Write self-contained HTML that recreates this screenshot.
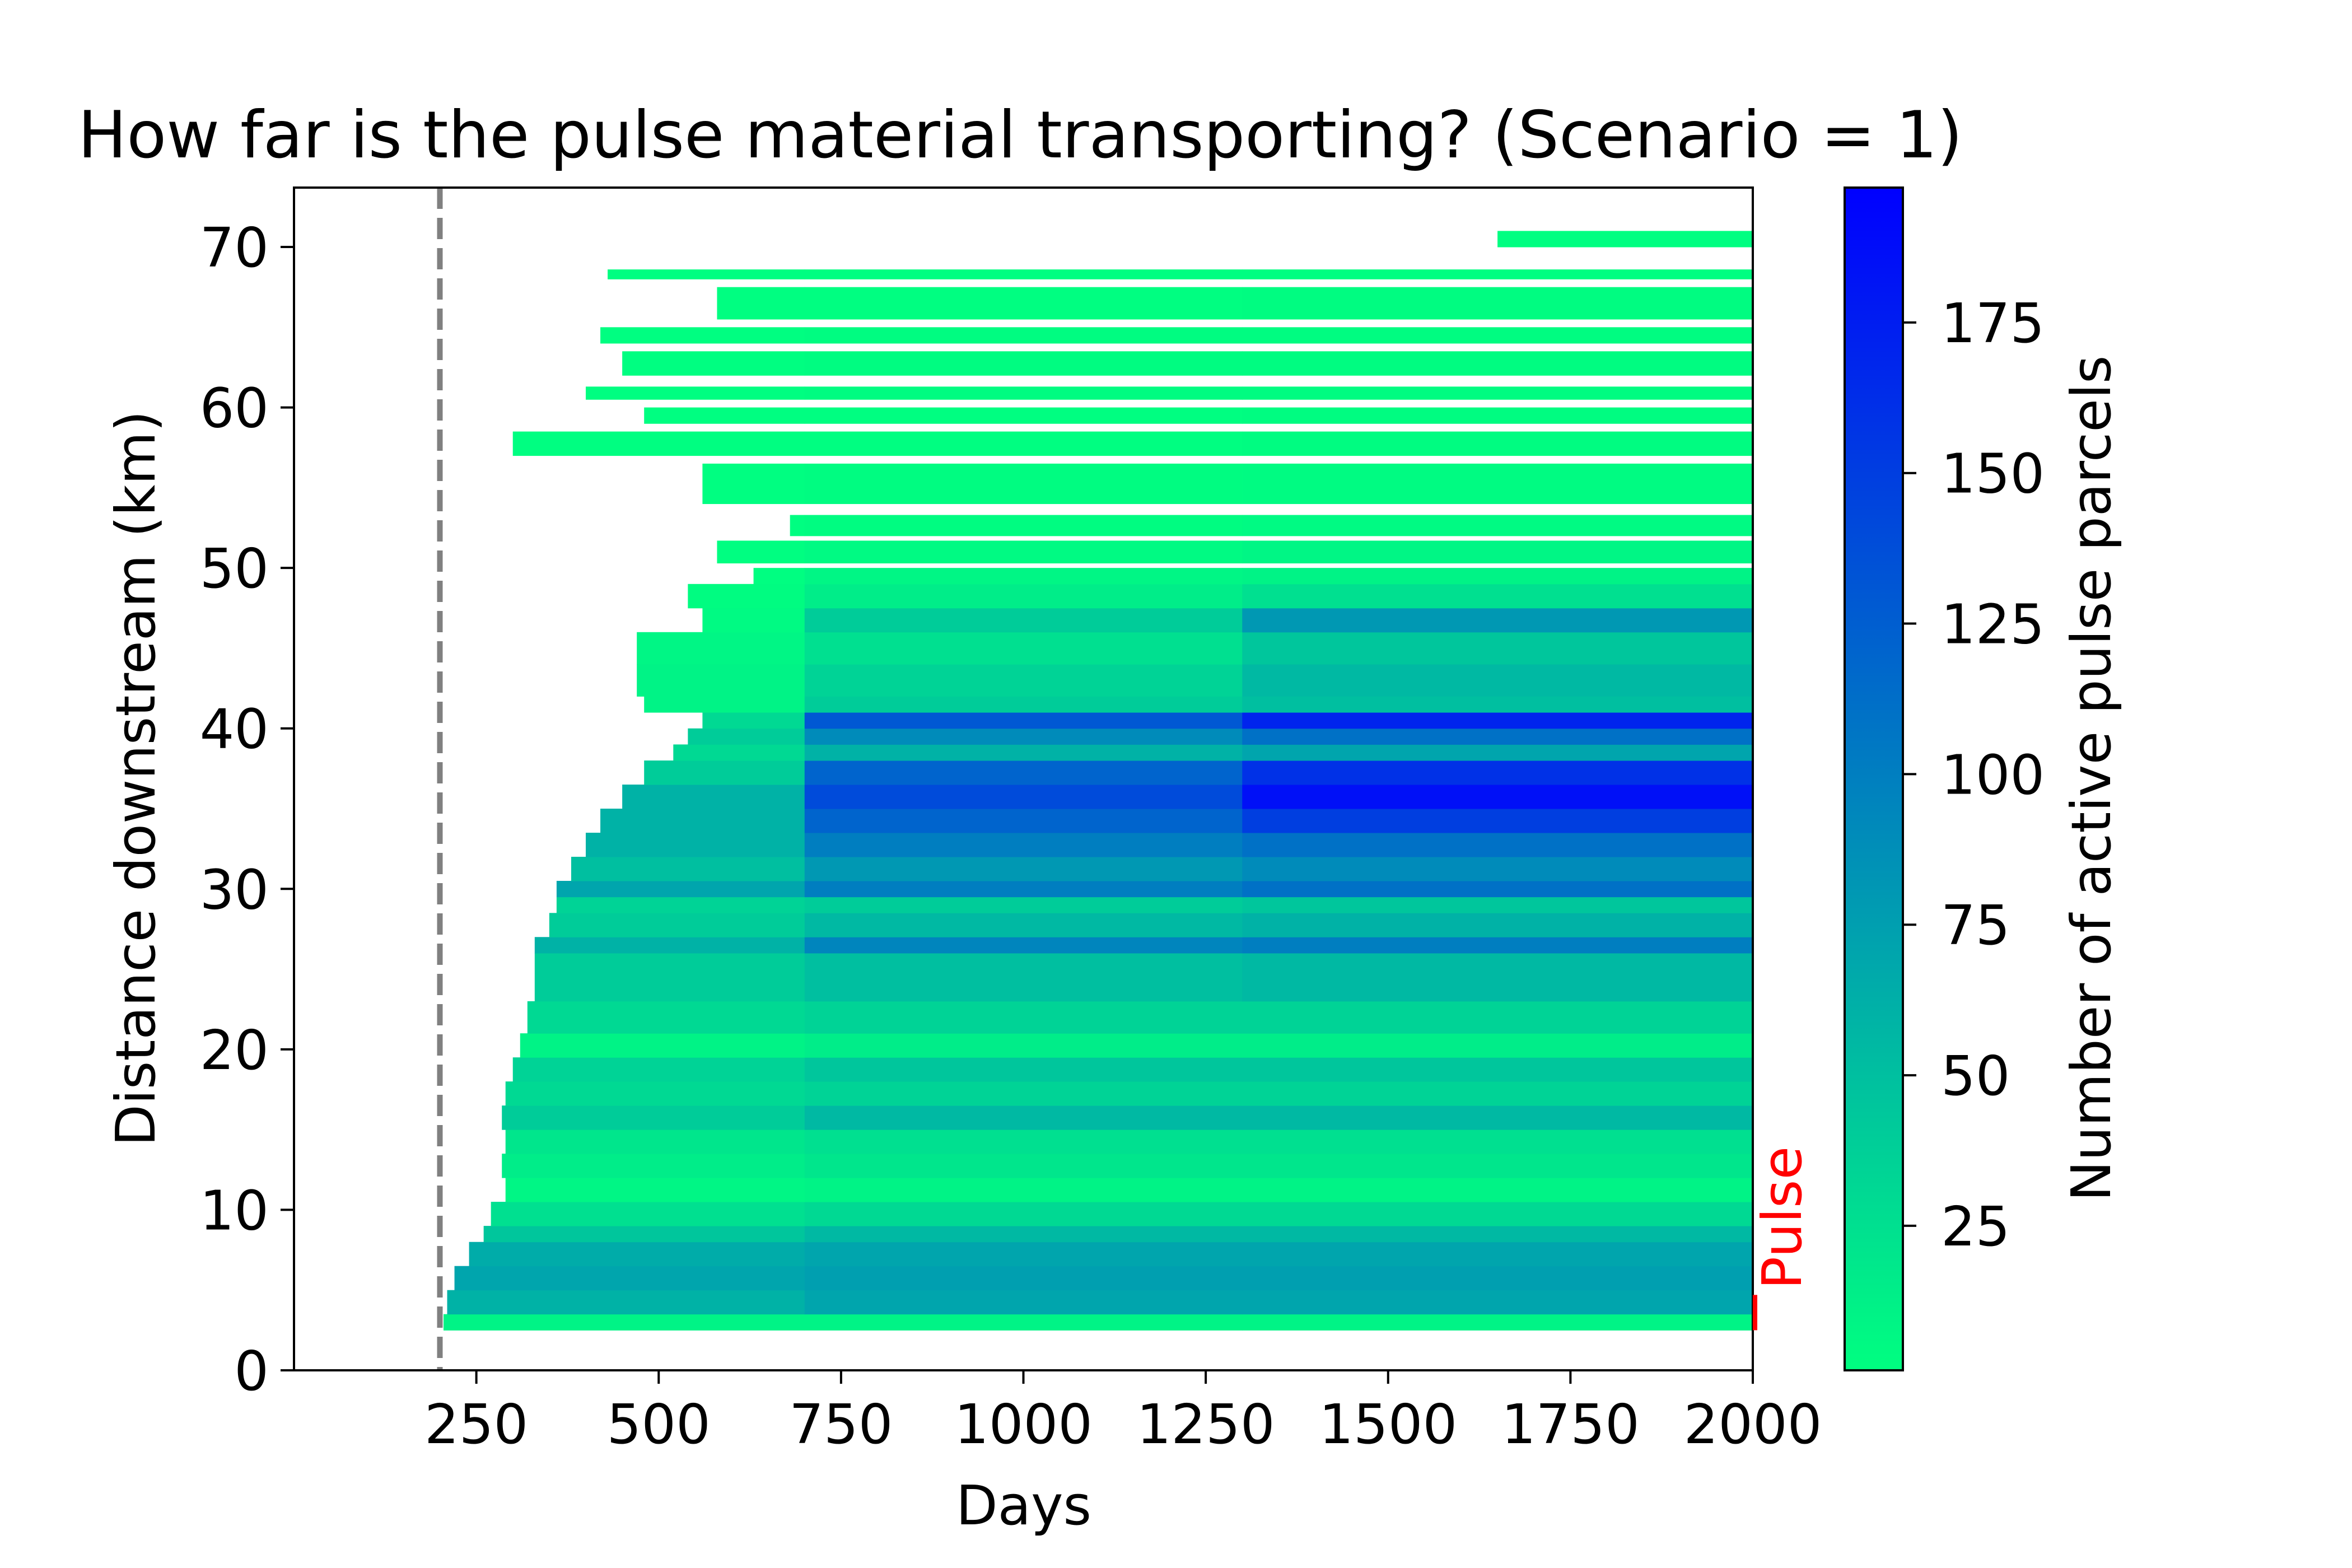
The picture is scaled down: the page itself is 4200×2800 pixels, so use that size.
<!DOCTYPE html>
<html><head><meta charset="utf-8"><style>
html,body{margin:0;padding:0;background:#fff}
svg{display:block;font-family:"DejaVu Sans","Liberation Sans",sans-serif}
</style></head><body>
<svg id="fig" width="4200" height="2800" viewBox="0 0 4200 2800">
<defs>
<linearGradient id="cmap" x1="0" y1="1" x2="0" y2="0">
<stop offset="0" stop-color="rgb(0,255,128)"/><stop offset="1" stop-color="rgb(0,0,255)"/>
</linearGradient>
</defs>
<rect width="4200" height="2800" fill="#fff"/>
<text x="139" y="281" font-size="116">How far is the pulse material transporting? (Scenario = 1)</text>
<g id="heat"></g>
<g id="axes"></g>
<rect x="3294" y="335" width="104" height="2112" fill="url(#cmap)" stroke="#000" stroke-width="4"/>
<g id="cbticks"></g>
<text transform="translate(3768,1390) rotate(-90)" text-anchor="middle" font-size="97">Number of active pulse parcels</text>
<text transform="translate(276,1390) rotate(-90)" text-anchor="middle" font-size="97">Distance downstream (km)</text>
<text x="1828" y="2722" text-anchor="middle" font-size="97">Days</text>
</svg>
<script>
const xTicks=[250,500,750,1000,1250,1500,1750,2000];
const yTicks=[0,10,20,30,40,50,60,70];
const cbTicks=[25,50,75,100,125,150,175];
const rowLo=[2.5,3.5,5,6.5,8,9,10.5,12,13.5,15,16.5,18,19.5,21,23,26,27,28.5,29.5,30.5,32,33.5,35,36.5,38,39,40,41,42,44,46,47.5,49,50.3,52,54,57,59,60.5,62,64,65.5,68,70];
const rowHi=[3.5,5,6.5,8,9,10.5,12,13.5,15,16.5,18,19.5,21,23,26,27,28.5,29.5,30.5,32,33.5,35,36.5,38,39,40,41,42,44,46,47.5,49,50,51.7,53.3,56.5,58.5,60,61.3,63.5,65,67.5,68.6,71];
const rowStart=[205,210,220,240,260,270,290,285,290,285,290,300,310,320,330,330,350,360,360,380,400,420,450,480,520,540,560,480,470,470,560,540,630,580,680,560,300,480,400,450,420,580,430,1650];
const valEarly=[10,60,70,65,45,25,8,15,20,40,30,35,10,30,40,60,40,35,70,50,60,60,60,40,30,40,30,10,10,8,5,3,2,2,2,2,2,2,2,2,2,2,2,2];
const valMid=[10,70,75,70,55,30,10,20,25,55,35,45,15,35,50,95,55,40,100,80,100,120,140,120,60,90,130,40,35,25,40,15,8,5,3,3,2,2,3,3,3,2,2,2];
const valLate=[10,70,75,70,55,30,10,20,25,55,35,45,15,35,55,100,60,45,110,90,110,150,185,160,70,110,170,50,55,45,80,25,10,8,5,4,3,3,3,3,3,3,2,2];
const segEdges=[700,1300];
const pulseDay=200, pulseKm=[2.5,4.7];
const X0=525,X1=3130,Y0=2447,Y1=335,XMIN=0,XMAX=2000,YMIN=0,YMAX=73.7,VMIN=1,VMAX=197.4;
const sx=d=>X0+(d-XMIN)/(XMAX-XMIN)*(X1-X0);
const sy=k=>Y0-(k-YMIN)/(YMAX-YMIN)*(Y0-Y1);
const sv=v=>Y0-(v-VMIN)/(VMAX-VMIN)*(Y0-Y1);
function col(v){const t=Math.max(0,Math.min(1,(v-VMIN)/(VMAX-VMIN)));return `rgb(0,${Math.round(255*(1-t))},${Math.round(128+127*t)})`;}
const NS="http://www.w3.org/2000/svg";
function mk(tag,attrs,parent,txt){const e=document.createElementNS(NS,tag);for(const k in attrs)e.setAttribute(k,attrs[k]);if(txt!==undefined)e.textContent=txt;parent.appendChild(e);return e;}
const heat=document.getElementById('heat');
for(let i=0;i<rowLo.length;i++){
  const b=[rowStart[i],Math.max(rowStart[i],segEdges[0]),Math.max(rowStart[i],segEdges[1]),XMAX];
  const vals=[valEarly[i],valMid[i],valLate[i]];
  for(let s=0;s<3;s++){
    if(b[s+1]<=b[s])continue;
    const r=mk('rect',{x:sx(b[s]),y:sy(rowHi[i]),width:sx(b[s+1])-sx(b[s])+0.5,height:sy(rowLo[i])-sy(rowHi[i])+0.5,fill:col(vals[s])},heat);
    
    
  }
}
const ax=document.getElementById('axes');
const dl=mk('line',{x1:sx(pulseDay),x2:sx(pulseDay),y1:Y1,y2:Y0,stroke:'#808080','stroke-width':10,'stroke-dasharray':'38,16'},ax);


const fr=mk('rect',{x:X0,y:Y1,width:X1-X0,height:Y0-Y1,fill:'none',stroke:'#000','stroke-width':4},ax);


const pl=mk('line',{x1:X1+4,x2:X1+4,y1:sy(pulseKm[0]),y2:sy(pulseKm[1]),stroke:'red','stroke-width':8},ax);


const pt=mk('text',{transform:`translate(${X1+86},${sy(pulseKm[1])-10}) rotate(-90)`,'font-size':97,fill:'red'},ax,'Pulse');


xTicks.forEach(t=>{
  const l=mk('line',{x1:sx(t),x2:sx(t),y1:Y0,y2:Y0+24,stroke:'#000','stroke-width':4},ax);
  
  
  const tx=mk('text',{x:sx(t),y:Y0+130,'text-anchor':'middle','font-size':97},ax,String(t));
  
  
});
yTicks.forEach(t=>{
  const l=mk('line',{x1:X0-24,x2:X0,y1:sy(t),y2:sy(t),stroke:'#000','stroke-width':4},ax);
  
  
  const tx=mk('text',{x:X0-45,y:sy(t)+35,'text-anchor':'end','font-size':97},ax,String(t));
  
  
});
const cb=document.getElementById('cbticks');
cbTicks.forEach(t=>{
  const l=mk('line',{x1:3398,x2:3422,y1:sv(t),y2:sv(t),stroke:'#000','stroke-width':4},cb);
  
  
  const tx=mk('text',{x:3466,y:sv(t)+35,'font-size':97},cb,String(t));
  
  
});
</script>
</body></html>
